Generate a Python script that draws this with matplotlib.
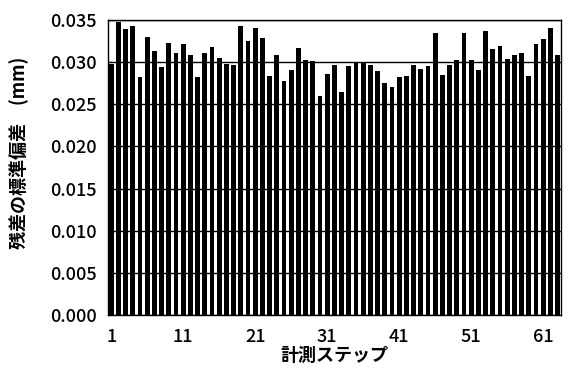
import matplotlib
matplotlib.use("Agg")
import matplotlib.pyplot as plt
import numpy as np

plt.rcParams['font.family'] = ['Noto Sans CJK JP', 'DejaVu Sans']

steps = list(range(1, 64))
values = [
    0.0298, 0.0347, 0.0339, 0.0343, 0.0282, 0.0330, 0.0313, 0.0294, 0.0323, 0.0311,
    0.0322, 0.0309, 0.0282, 0.0311, 0.0318, 0.0305, 0.0298, 0.0297, 0.0343, 0.0325,
    0.0341, 0.0329, 0.0284, 0.0308, 0.0278, 0.0291, 0.0317, 0.0303, 0.0301, 0.0260,
    0.0286, 0.0297, 0.0265, 0.0295, 0.0299, 0.0299, 0.0297, 0.0290, 0.0275, 0.0271,
    0.0282, 0.0283, 0.0297, 0.0292, 0.0295, 0.0334, 0.0285, 0.0296, 0.0302, 0.0334,
    0.0302, 0.0291, 0.0337, 0.0316, 0.0319, 0.0304, 0.0309, 0.0311, 0.0284, 0.0322,
    0.0327, 0.0340, 0.0308,
]
xticks = [1, 11, 21, 31, 41, 51, 61]
yticks = [0.000, 0.005, 0.010, 0.015, 0.020, 0.025, 0.030, 0.035]
ytick_labels = ["0.000", "0.005", "0.010", "0.015", "0.020", "0.025", "0.030", "0.035"]

fig = plt.figure(figsize=(5.68, 3.76), dpi=100)
ax = fig.add_axes([0.190, 0.162, 0.798, 0.785])

ax.set_axisbelow(True)
ax.yaxis.grid(True, color='black', linewidth=1.0)
ax.bar(steps, values, width=0.68, color='black', zorder=2)

ax.set_xlim(0.55, 63.5)
ax.set_ylim(0, 0.035)
ax.set_xticks(xticks)
ax.set_xticklabels([str(t) for t in xticks], fontsize=13, fontweight='medium')
ax.set_yticks(yticks)
ax.set_yticklabels(ytick_labels, fontsize=13, fontweight='medium')
ax.tick_params(axis='x', length=0, pad=9)
ax.tick_params(axis='y', length=3, pad=8, direction='in')

for s in ax.spines.values():
    s.set_color('black')
    s.set_linewidth(1.0)

ax.set_xlabel("計測ステップ", fontsize=13, fontweight='bold', labelpad=0)
ax.set_ylabel("残差の標準偏差　(mm)", fontsize=13, fontweight='bold')
ax.yaxis.set_label_coords(-0.174, 0.55)

fig.savefig("out.png", dpi=100)
